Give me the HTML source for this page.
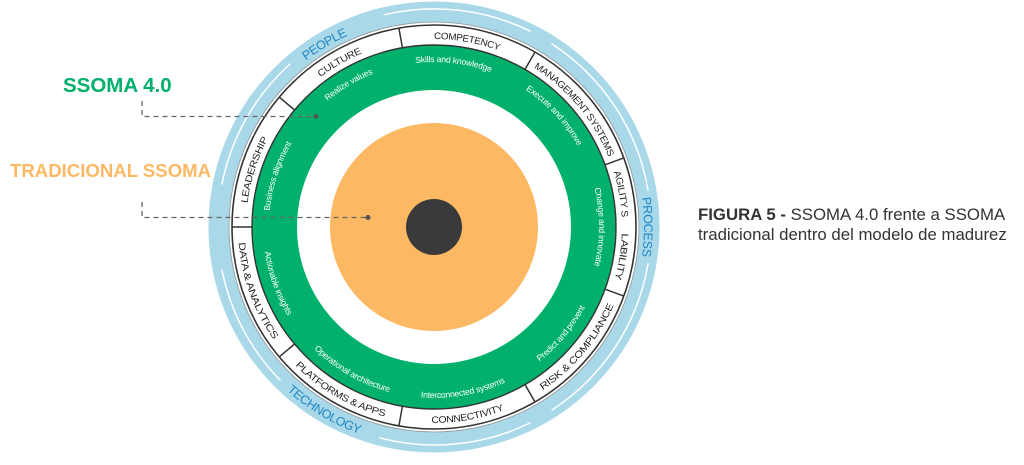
<!DOCTYPE html>
<html><head><meta charset="utf-8"><style>
html,body{margin:0;padding:0;background:#fff;}
svg{display:block;}
</style></head><body>
<svg width="1024" height="465" viewBox="0 0 1024 465" xmlns="http://www.w3.org/2000/svg" font-family="Liberation Sans, Arial, sans-serif">
<defs>
  <path id="cw188" d="M246,227 A188,188 0 0 1 622,227 A188,188 0 0 1 246,227"/>
  <path id="ccw196" d="M238,227 A196,196 0 0 0 630,227 A196,196 0 0 0 238,227"/>
  <path id="cw165" d="M269,227 A165,165 0 0 1 599,227 A165,165 0 0 1 269,227"/>
  <path id="ccw171" d="M263,227 A171,171 0 0 0 605,227 A171,171 0 0 0 263,227"/>
  <path id="cw210" d="M224,227 A210,210 0 0 1 644,227 A210,210 0 0 1 224,227"/>
  <path id="ccw220" d="M214,227 A220,220 0 0 0 654,227 A220,220 0 0 0 214,227"/>
</defs>
<!-- blue ring -->
<circle cx="434" cy="227" r="215" fill="none" stroke="#a9d9e9" stroke-width="21"/>
<g fill="none" stroke="#fff" stroke-width="1.5" stroke-linecap="round">
  <path d="M 384.8,14.6 A 218,218 0 0 1 530,31"/>
  <path d="M 552,44 A 218,218 0 0 1 648,190"/>
  <path d="M 648,264 A 218,218 0 0 1 552,410"/>
  <path d="M 530,423 A 218,218 0 0 1 380,438"/>
  <path d="M 222,270 A 218,218 0 0 0 280,380"/>
  <path d="M 222,184 A 218,218 0 0 1 290,64"/>
</g>
<!-- segment ring -->
<circle cx="434" cy="227" r="202" fill="#fff" stroke="#333" stroke-width="1.6"/>
<circle cx="434" cy="227" r="205" fill="none" stroke="#999" stroke-width="0.8"/>
<!-- green ring -->
<circle cx="434" cy="227" r="159.5" fill="none" stroke="#00b06b" stroke-width="45"/>
<circle cx="434" cy="227" r="182" fill="none" stroke="#333" stroke-width="1.4"/>
<g stroke="#333" stroke-width="1.5">
  <line x1="402.4" y1="47.8" x2="398.9" y2="28.1"/>
  <line x1="525" y1="69.4" x2="535" y2="52.1"/>
  <line x1="605" y1="164.8" x2="623.8" y2="157.9"/>
  <line x1="605" y1="289.2" x2="623.8" y2="296.1"/>
  <line x1="525" y1="384.6" x2="535" y2="401.9"/>
  <line x1="402.4" y1="406.2" x2="398.9" y2="425.9"/>
  <line x1="294.6" y1="344" x2="279.3" y2="356.8"/>
  <line x1="252" y1="227" x2="232" y2="227"/>
  <line x1="294.6" y1="110" x2="279.3" y2="97.2"/>
</g>
<circle cx="434" cy="227" r="104" fill="#fdb863"/>
<circle cx="434" cy="227" r="28" fill="#3a3a3a"/>

<!-- segment labels -->
<g font-size="9.5" fill="#222" text-anchor="middle" letter-spacing="-0.3">
  <text><textPath href="#cw188" startOffset="27.8%" textLength="66" lengthAdjust="spacingAndGlyphs">COMPETENCY</textPath></text>
  <text><textPath href="#cw188" startOffset="38.9%" textLength="118" lengthAdjust="spacingAndGlyphs">MANAGEMENT SYSTEMS</textPath></text>
  <text><textPath href="#cw188" startOffset="47.2%" textLength="46" lengthAdjust="spacingAndGlyphs">AGILITY S</textPath></text>
  <text><textPath href="#cw188" startOffset="52.5%" textLength="46" lengthAdjust="spacingAndGlyphs">LABILITY</textPath></text>
  <text><textPath href="#cw188" startOffset="16.7%" textLength="48" lengthAdjust="spacingAndGlyphs">CULTURE</textPath></text>
  <text><textPath href="#cw188" startOffset="4.9%" textLength="68" lengthAdjust="spacingAndGlyphs">LEADERSHIP</textPath></text>
  <text><textPath href="#ccw196" startOffset="5.5%" textLength="104" lengthAdjust="spacingAndGlyphs">DATA &amp; ANALYTICS</textPath></text>
  <text><textPath href="#ccw196" startOffset="16.7%" textLength="104" lengthAdjust="spacingAndGlyphs">PLATFORMS &amp; APPS</textPath></text>
  <text><textPath href="#ccw196" startOffset="27.8%" textLength="74" lengthAdjust="spacingAndGlyphs">CONNECTIVITY</textPath></text>
  <text><textPath href="#ccw196" startOffset="38.9%" textLength="112" lengthAdjust="spacingAndGlyphs">RISK &amp; COMPLIANCE</textPath></text>
</g>
<!-- green labels -->
<g font-size="8.6" fill="#fff" text-anchor="middle" letter-spacing="-0.2">
  <text><textPath href="#cw165" startOffset="26.9%">Skills and knowledge</textPath></text>
  <text><textPath href="#cw165" startOffset="16.4%">Realize values</textPath></text>
  <text><textPath href="#cw165" startOffset="38.1%">Execute and improve</textPath></text>
  <text><textPath href="#cw165" startOffset="50%">Change and innovate</textPath></text>
  <text><textPath href="#cw165" startOffset="5%">Business alignment</textPath></text>
  <text><textPath href="#ccw171" startOffset="5.5%">Actionable insights</textPath></text>
  <text><textPath href="#ccw171" startOffset="16.7%">Operational architecture</textPath></text>
  <text><textPath href="#ccw171" startOffset="27.8%">Interconnected systems</textPath></text>
  <text><textPath href="#ccw171" startOffset="38.9%">Predict and prevent</textPath></text>
</g>
<!-- blue labels -->
<g font-size="12.5" fill="#1f86c6" text-anchor="middle" letter-spacing="-0.3">
  <text><textPath href="#cw210" startOffset="16.4%">PEOPLE</textPath></text>
  <text><textPath href="#cw210" startOffset="50%">PROCESS</textPath></text>
  <text><textPath href="#ccw220" startOffset="16.4%">TECHNOLOGY</textPath></text>
</g>

<text x="63" y="92" font-size="20.5" font-weight="bold" fill="#00b06b">SSOMA 4.0</text>
<text x="10" y="177" font-size="18.6" font-weight="bold" fill="#fdb863">TRADICIONAL SSOMA</text>
<g stroke="#666" stroke-width="1.3" stroke-dasharray="5,4" fill="none">
  <path d="M142,101 V116.5 H316"/>
  <path d="M142,202 V217.5 H366"/>
</g>
<circle cx="316" cy="116.5" r="2.5" fill="#555"/>
<circle cx="368" cy="217.5" r="2.5" fill="#555"/>

<text x="698" y="220" font-size="16.8" fill="#333"><tspan font-weight="bold">FIGURA 5 -</tspan> SSOMA 4.0 frente a SSOMA</text>
<text x="698" y="240" font-size="16.8" fill="#333">tradicional dentro del modelo de madurez</text>
</svg>
</body></html>
